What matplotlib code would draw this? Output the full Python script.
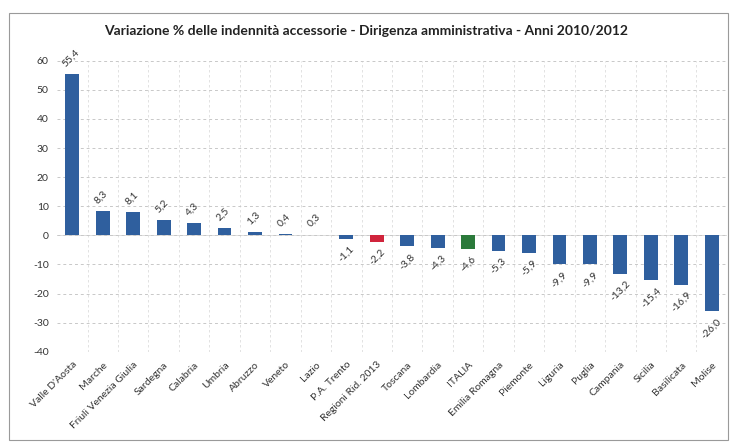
import matplotlib.pyplot as plt
import numpy as np
from matplotlib.patches import Rectangle

regions = [
    "Valle D'Aosta", "Marche", "Friuli Venezia Giulia", "Sardegna", "Calabria",
    "Umbria", "Abruzzo", "Veneto", "Lazio", "P.A. Trento", "Regioni Rid. 2013",
    "Toscana", "Lombardia", "ITALIA", "Emilia Romagna", "Piemonte", "Liguria",
    "Puglia", "Campania", "Sicilia", "Basilicata", "Molise",
]
variation = [
    55.4, 8.3, 8.1, 5.2, 4.3, 2.5, 1.3, 0.4, 0.3, -1.1, -2.2,
    -3.8, -4.3, -4.6, -5.3, -5.9, -9.9, -9.9, -13.2, -15.4, -16.9, -26.0,
]
y_ticks = [60, 50, 40, 30, 20, 10, 0, -10, -20, -30, -40]

BLUE = "#2f5f9e"
RED = "#d0243c"
GREEN = "#2b7a3b"
colors = [RED if r == "Regioni Rid. 2013" else GREEN if r == "ITALIA" else BLUE
          for r in regions]

plt.rcParams["font.family"] = ["Lato", "DejaVu Sans"]

fig = plt.figure(figsize=(7.32, 4.47), dpi=100)
ax = fig.add_axes([0.078, 0.213, 0.915, 0.651])

x = np.arange(len(regions))
ax.bar(x, variation, width=0.45, color=colors, zorder=3)

for xi, v in zip(x, variation):
    label = f"{v:.1f}".replace(".", ",")
    if v >= 0:
        ax.annotate(label, (xi, v), xytext=(-1, 4), textcoords="offset points",
                    rotation=45, ha="center", va="bottom", fontsize=7.5,
                    color="#333333")
    else:
        ax.annotate(label, (xi, v), xytext=(0, -4), textcoords="offset points",
                    rotation=45, ha="center", va="top", fontsize=7.5,
                    color="#333333")

ax.set_xlim(-0.5, len(regions) - 0.5)
ax.set_ylim(-40, 60)
ax.set_yticks(y_ticks)
ax.set_yticklabels([str(t) for t in y_ticks], fontsize=7.5, color="#333333")
ax.set_xticks(x)
ax.set_xticklabels(regions, rotation=45, ha="right", rotation_mode="anchor",
                   fontsize=7.5, color="#333333")
ax.tick_params(length=0, pad=6)

ax.grid(axis="y", color="#c8c8c8", linestyle=(0, (3, 3)), linewidth=0.7, zorder=0)
for b in np.arange(0.5, len(regions) - 0.5, 1):
    ax.axvline(b, color="#dddddd", linestyle=(0, (3, 3)), linewidth=0.6, zorder=0)
for s in ax.spines.values():
    s.set_visible(False)
ax.axhline(0, color="#d8d8d8", linewidth=0.6, zorder=1)

fig.text(0.5, 0.93, "Variazione % delle indennità accessorie - Dirigenza amministrativa - Anni 2010/2012",
         ha="center", va="center", fontsize=10, fontweight="bold", color="#222222")

fig.patches.append(Rectangle((0.012, 0.015), 0.982, 0.955, transform=fig.transFigure,
                             fill=False, edgecolor="#9a9a9a", linewidth=0.8))

fig.savefig("out.png", dpi=100)
